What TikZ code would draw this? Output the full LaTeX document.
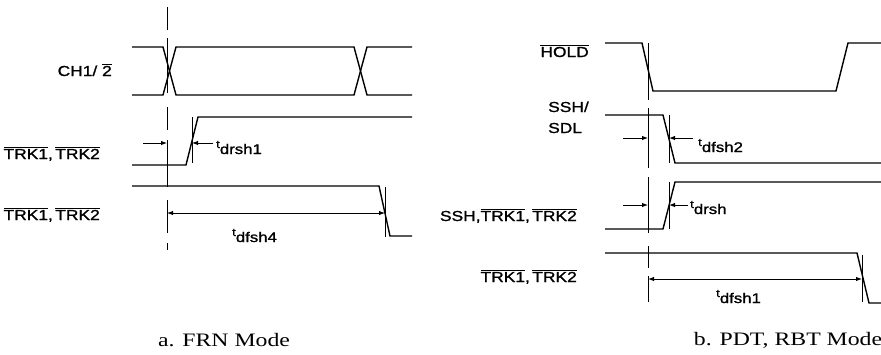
\documentclass[tikz,border=0pt]{standalone}
\usepackage{fontspec}
\setmainfont[FakeStretch=1.25]{Liberation Serif}
\newfontfamily\sigfont[FakeStretch=1.2,FakeBold=1.2]{Liberation Sans}
\usetikzlibrary{arrows.meta}
\newcommand\ovl[1]{$\overline{\mbox{#1}}$}
\newcommand\tsub[1]{{\fontsize{11}{12}\selectfont\raisebox{6pt}{t}}#1}

\begin{document}
\begin{tikzpicture}[x=1pt,y=-1pt,
  wave/.style={line width=1.4pt,line join=miter},
  edgetick/.style={line width=0.9pt},
  refleft/.style={line width=1pt,
    dash pattern=on 23pt off 8pt on 55pt off 14pt on 23pt off 10pt on 47pt off 13pt on 33pt off 10pt on 7pt},
  refright/.style={line width=1pt,
    dash pattern=on 57pt off 8pt on 60pt off 9pt on 56pt off 13pt on 22pt off 8pt on 26pt},
  dim/.style={line width=1pt,-{Latex[length=6pt,width=4.5pt]}},
  dimboth/.style={line width=1pt,{Latex[length=6pt,width=4.5pt]}-{Latex[length=6pt,width=4.5pt]}},
  sig/.style={font=\sigfont\fontsize{14.5}{21}\selectfont,inner sep=0pt},
  tlab/.style={font=\sigfont\fontsize{14}{16}\selectfont,inner sep=0pt,anchor=base west},
  capt/.style={font=\fontsize{19}{22}\selectfont,inner sep=0pt,anchor=base}]
  \useasboundingbox (0,0) rectangle (881,354);

  % a. FRN mode
  \coordinate (refa) at (167,7);
  \coordinate (refa2) at (167,250);
  \draw[refleft] (refa) -- (refa2);
  \node[sig,anchor=base east] (ch) at (112,76) {CH1/ \ovl{2}};
  \draw[wave] (132,47) -- (163,47) -- (176,95) -- (354,95) -- (367,47) -- (412,47);
  \draw[wave] (132,95) -- (163,95) -- (176,47) -- (354,47) -- (367,95) -- (412,95);

  \node[sig,anchor=base east] (trka) at (100,159) {\ovl{TRK1},\,\ovl{TRK2}};
  \draw[wave] (132,165) -- (186,165) -- (198,117) -- (412,117);
  \coordinate (ea) at (192,143);
  \draw[edgetick] (192,117) -- (192,163);
  \coordinate (fa) at (143,143);
  \coordinate (ga) at (167,143);
  \coordinate (ha) at (213,143);
  \draw[dim] (fa) -- (ga);
  \draw[dim] (ha) -- (ea);
  \node[tlab] (drsha) at (216,154) {\tsub{drsh1}};

  \node[sig,anchor=base east] (trkb) at (100,220) {\ovl{TRK1},\,\ovl{TRK2}};
  \draw[wave] (132,186) -- (379,186) -- (390,236) -- (412,236);
  \draw[edgetick] (385,187) -- (385,237);
  \coordinate (sa) at (167,213);
  \coordinate (eb) at (385,213);
  \draw[dimboth] (sa) -- (eb);
  \node[tlab] (dfsha) at (232,242) {\tsub{dfsh4}};

  \node[capt] (capa) at (224,346) {a. FRN Mode};

  % b. PDT, RBT mode
  \coordinate (refb) at (648,43);
  \coordinate (refb2) at (648,302);
  \draw[refright] (refb) -- (refb2);
  \node[sig,anchor=base east] (hold) at (589,57) {\ovl{HOLD}};
  \draw[wave] (605,43) -- (642,43) -- (653,91) -- (836,91) -- (848,43) -- (881,43);

  \node[sig,anchor=base west,align=left] (ssh) at (548,133) {SSH/\\SDL};
  \draw[wave] (605,115) -- (663,115) -- (675,163) -- (881,163);
  \draw[edgetick] (669,115) -- (669,163);
  \coordinate (fb) at (623,138);
  \coordinate (gb) at (648,138);
  \coordinate (hb) at (693,138);
  \coordinate (ec) at (669,138);
  \draw[dim] (fb) -- (gb);
  \draw[dim] (hb) -- (ec);
  \node[tlab] (dfshb) at (698,152) {\tsub{dfsh2}};

  \node[sig,anchor=base east] (trkc) at (577,221) {SSH,\ovl{TRK1},\,\ovl{TRK2}};
  \draw[wave] (605,229) -- (663,229) -- (675,182) -- (881,182);
  \draw[edgetick] (669,182) -- (669,229);
  \coordinate (fc) at (623,205);
  \coordinate (gc) at (648,205);
  \coordinate (hc) at (688,205);
  \coordinate (ed) at (669,205);
  \draw[dim] (fc) -- (gc);
  \draw[dim] (hc) -- (ed);
  \node[tlab] (drshb) at (690,214) {\tsub{drsh}};

  \node[sig,anchor=base east] (trkd) at (577,282) {\ovl{TRK1},\,\ovl{TRK2}};
  \draw[wave] (605,253) -- (857,253) -- (869,303) -- (881,303);
  \draw[edgetick] (862,255) -- (862,302);
  \coordinate (sb) at (648,279);
  \coordinate (ee) at (862,279);
  \draw[dimboth] (sb) -- (ee);
  \node[tlab] (dfshc) at (716,303) {\tsub{dfsh1}};

  \node[capt] (capb) at (788,345) {b. PDT, RBT Mode};
\end{tikzpicture}
\end{document}
